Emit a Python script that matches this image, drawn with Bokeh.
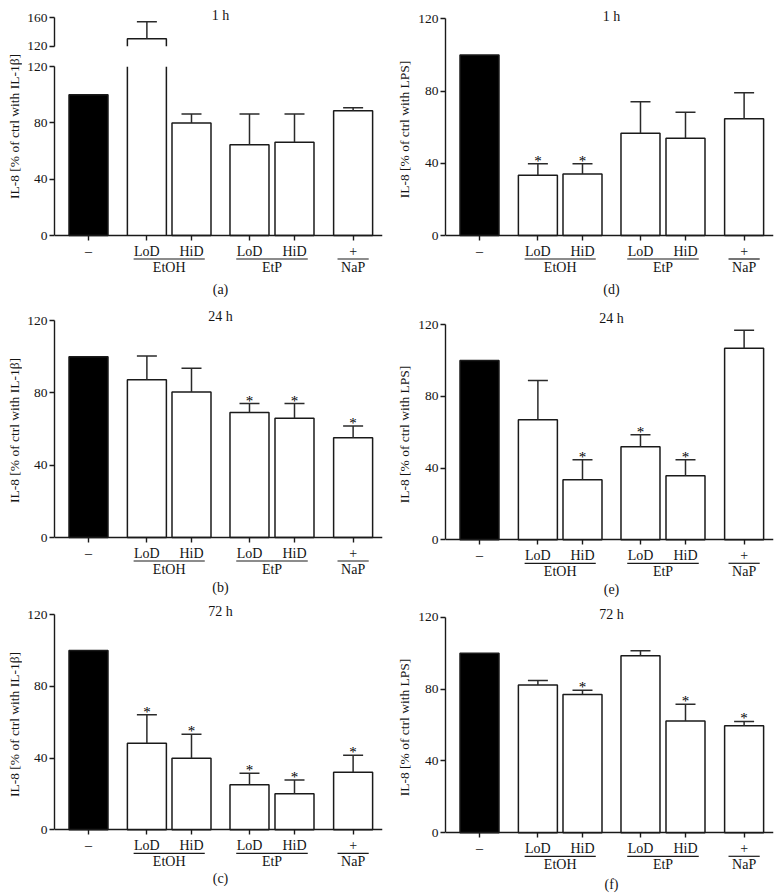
import math
from bokeh.plotting import figure
from bokeh.models import (ColumnDataSource, Whisker, TeeHead, FixedTicker,
                          LinearAxis, Range1d)
from bokeh.layouts import row, column
from bokeh.embed import file_html
from bokeh.resources import INLINE
from bokeh.core.properties import value

# ---------------- data ----------------
bar_labels = ["–", "LoD", "HiD", "LoD", "HiD", "+"]
group_labels = ["EtOH", "EtP", "NaP"]
group_members = [[1, 2], [3, 4], [5]]
ylabel_il1b = "IL-8 [% of ctrl with IL-1β]"
ylabel_lps = "IL-8 [% of ctrl with LPS]"
y_ticks = [0, 40, 80, 120]
break_ticks = [120, 160]
time_labels = ["1 h", "24 h", "72 h"]
letters = ["(a)", "(b)", "(c)", "(d)", "(e)", "(f)"]

# (a) IL-1beta, 1 h
a_mean = [100, 130.7, 79.8, 64.4, 66.3, 88.5]
a_err = [0, 23.7, 6.4, 21.8, 19.9, 2.2]
a_star = [0, 0, 0, 0, 0, 0]
# (b) IL-1beta, 24 h
b_mean = [100, 87.2, 80.4, 69.1, 66.0, 55.1]
b_err = [0, 13.1, 13.2, 5.0, 8.1, 6.5]
b_star = [0, 0, 0, 1, 1, 1]
# (c) IL-1beta, 72 h
c_mean = [100, 48.3, 39.9, 25.1, 20.1, 32.1]
c_err = [0, 15.8, 13.4, 6.4, 7.6, 9.5]
c_star = [0, 1, 1, 1, 1, 1]
# (d) LPS, 1 h
d_mean = [100, 33.4, 34.0, 56.6, 53.9, 64.6]
d_err = [0, 6.3, 5.7, 17.4, 14.4, 14.4]
d_star = [0, 1, 1, 0, 0, 0]
# (e) LPS, 24 h
e_mean = [100, 66.9, 33.4, 51.8, 35.7, 106.8]
e_err = [0, 21.9, 11.2, 6.7, 8.9, 10.0]
e_star = [0, 0, 1, 1, 1, 0]
# (f) LPS, 72 h
f_mean = [100, 82.2, 77.0, 98.5, 62.2, 59.6]
f_err = [0, 2.6, 2.4, 2.8, 9.3, 2.4]
f_star = [0, 0, 1, 0, 1, 1]

# ---------------- layout / style ----------------
FONT = "Liberation Serif"
TXT = "#141414"
LINE = "#1a1a1a"
ERR = "#2a2a2a"
LW_BAR = 1.5
XPOS = [0.0, 1.497, 2.641, 4.128, 5.282, 6.785]
BAR_W = 1.0
PX = 39.0                      # px per x unit
X0, X1 = -34 / PX, 294 / PX    # frame 328 px wide
TITLE_X = 132 / PX
PAGE_H = 894
BREAK = 120


def base_fig(width, height, mbl, mbr, mbt, mbb, yr):
    p = figure(width=width, height=height, x_range=Range1d(X0, X1), y_range=yr,
               output_backend="svg", toolbar_location=None, title=None,
               x_axis_location=None, y_axis_location="left",
               min_border_left=mbl, min_border_right=mbr,
               min_border_top=mbt, min_border_bottom=mbb)
    p.outline_line_color = None
    p.grid.visible = False
    p.background_fill_color = "white"
    p.border_fill_color = "white"
    return p


def style_axis(ax, size):
    ax.major_tick_out = 5
    ax.major_tick_in = 0
    ax.minor_tick_out = 0
    ax.minor_tick_in = 0
    ax.axis_line_color = LINE
    ax.axis_line_width = 1.4
    ax.major_tick_line_color = LINE
    ax.major_tick_line_width = 1.4
    ax.major_label_text_font = FONT
    ax.major_label_text_font_size = size
    ax.major_label_text_color = TXT


def style_yaxis(p, ticks, bounds):
    ax = p.yaxis[0]
    ax.ticker = FixedTicker(ticks=ticks)
    ax.bounds = bounds
    style_axis(ax, "13.5px")
    ax.major_label_standoff = 2


def add_xaxis(p):
    xa = LinearAxis(fixed_location=0, ticker=FixedTicker(ticks=XPOS), bounds=(X0, X1),
                    major_label_overrides={x: l for x, l in zip(XPOS, bar_labels)})
    style_axis(xa, "14px")
    xa.major_label_standoff = 3
    p.add_layout(xa, "below")


def draw_data(p, mean, err, star, mode="full"):
    n = len(mean)
    if mode == "full":
        normal = list(range(n))
        broken = []
    elif mode == "lower":
        normal = [i for i in range(n) if mean[i] <= BREAK]
        broken = [i for i in range(n) if mean[i] > BREAK]
    else:  # upper
        normal = []
        broken = [i for i in range(n) if mean[i] > BREAK]

    if normal:
        p.vbar(x=[XPOS[i] for i in normal], top=[mean[i] for i in normal], bottom=0,
               width=BAR_W, fill_color=["black" if i == 0 else "white" for i in normal],
               line_color=LINE, line_width=LW_BAR)
    if broken:
        if mode == "lower":
            # open-topped bar up to the axis break
            p.vbar(x=[XPOS[i] for i in broken], top=BREAK, bottom=0, width=BAR_W,
                   fill_color="white", line_color=None)
            p.multi_line(xs=[[XPOS[i] - BAR_W / 2, XPOS[i] - BAR_W / 2] for i in broken]
                         + [[XPOS[i] + BAR_W / 2, XPOS[i] + BAR_W / 2] for i in broken],
                         ys=[[0, BREAK]] * (2 * len(broken)),
                         line_color=LINE, line_width=LW_BAR)
        else:
            # open-bottomed bar continuing above the break
            p.vbar(x=[XPOS[i] for i in broken], top=[mean[i] for i in broken],
                   bottom=BREAK, width=BAR_W, fill_color="white", line_color=None)
            p.multi_line(xs=[[XPOS[i] - BAR_W / 2, XPOS[i] - BAR_W / 2,
                              XPOS[i] + BAR_W / 2, XPOS[i] + BAR_W / 2] for i in broken],
                         ys=[[BREAK, mean[i], mean[i], BREAK] for i in broken],
                         line_color=LINE, line_width=LW_BAR)

    shown = normal if mode == "lower" else (normal + broken)
    widx = [i for i in shown if err[i] > 0]
    if widx:
        src = ColumnDataSource(dict(x=[XPOS[i] for i in widx],
                                    lo=[mean[i] for i in widx],
                                    hi=[mean[i] + err[i] for i in widx]))
        w = Whisker(source=src, base="x", lower="lo", upper="hi", dimension="height",
                    line_color=ERR, line_width=LW_BAR, lower_head=None,
                    upper_head=TeeHead(size=20, line_color=ERR, line_width=LW_BAR),
                    level="glyph")
        p.add_layout(w)
    sidx = [i for i in shown if star[i]]
    if sidx:
        p.text(x=[XPOS[i] for i in sidx], y=[mean[i] + err[i] for i in sidx],
               text=["*"] * len(sidx), text_font=value(FONT), text_font_size="15px",
               text_align="center", text_baseline="alphabetic", y_offset=-3,
               text_color="black")


def text1(p, x, y, t, size="14px"):
    p.text(x=[x], y=[y], text=[t], text_font=value(FONT), text_font_size=size,
           text_align="center", text_baseline="middle", text_color=TXT)


def add_group_labels(p, s, y0_py, letter, letter_py):
    x0s, x1s, cx = [], [], []
    for m in group_members:
        pad = 0.34 if len(m) > 1 else 0.40
        x0s.append(XPOS[m[0]] - pad)
        x1s.append(XPOS[m[-1]] + pad)
        cx.append(sum(XPOS[i] for i in m) / len(m))
    yl = -23.5 / s
    p.segment(x0=x0s, y0=[yl] * 3, x1=x1s, y1=[yl] * 3, line_color=LINE, line_width=1.2)
    p.text(x=cx, y=[-31.5 / s] * 3, text=group_labels, text_font=value(FONT),
           text_font_size="14px", text_align="center", text_baseline="middle",
           text_color=TXT)
    text1(p, TITLE_X, (y0_py - letter_py) / s, letter)


def y_range_for(fr_top, fr_bot, y0_py, y120_py):
    s = (y0_py - y120_py) / 120.0
    return Range1d(-(fr_bot - y0_py) / s, (y0_py - fr_top) / s), s


def panel(width, mbl, mbr, top, bottom, y0_py, y120_py, mean, err, star,
          title, title_py, letter, letter_py):
    yr, s = y_range_for(top, bottom, y0_py, y120_py)
    p = base_fig(width, bottom - top, mbl, mbr, 0, 0, yr)
    style_yaxis(p, y_ticks, (0, 120))
    add_xaxis(p)
    draw_data(p, mean, err, star, "full")
    text1(p, TITLE_X, (y0_py - title_py) / s, title)
    add_group_labels(p, s, y0_py, letter, letter_py)
    return p


LW, LMBL, LMBR = 369, 32, 9     # page x 22..391, frame 54..382
RW, RMBL, RMBR = 368, 31, 9     # page x 414..782, frame 445..773

# ----- panel (a): broken axis -----
up_s = (46 - 17.3) / 40.0
a_up = base_fig(LW, 56, LMBL, LMBR, 0, 10, Range1d(BREAK - 1e-4, BREAK + 46 / up_s))
style_yaxis(a_up, break_ticks, (120, 160))
draw_data(a_up, a_mean, a_err, a_star, "upper")
text1(a_up, TITLE_X, BREAK + (46 - 15.5) / up_s, time_labels[0])

yr_al, s_al = y_range_for(66, 300, 235, 66)
yr_al.end = BREAK + 1e-4
a_low = base_fig(LW, 244, LMBL, LMBR, 10, 0, yr_al)
style_yaxis(a_low, y_ticks, (0, 120))
add_xaxis(a_low)
draw_data(a_low, a_mean, a_err, a_star, "lower")
add_group_labels(a_low, s_al, 235, letters[0], 289)

# ----- other panels -----
p_b = panel(LW, LMBL, LMBR, 300, 600, 537, 320, b_mean, b_err, b_star,
            time_labels[1], 315.8, letters[1], 587)
p_c = panel(LW, LMBL, LMBR, 600, PAGE_H, 829.3, 614, c_mean, c_err, c_star,
            time_labels[2], 611, letters[2], 878)
p_d = panel(RW, RMBL, RMBR, 0, 300, 235, 18.3, d_mean, d_err, d_star,
            time_labels[0], 16, letters[3], 289)
p_e = panel(RW, RMBL, RMBR, 300, 600, 539.3, 324, e_mean, e_err, e_star,
            time_labels[1], 317.5, letters[4], 589)
p_f = panel(RW, RMBL, RMBR, 600, PAGE_H, 832.3, 616.7, f_mean, f_err, f_star,
            time_labels[2], 614, letters[5], 884)


# ----- y-axis titles (narrow label columns) -----
def label_fig(width, x_px, items):
    p = figure(width=width, height=PAGE_H, x_range=Range1d(0, width),
               y_range=Range1d(0, PAGE_H), output_backend="svg",
               toolbar_location=None, title=None, x_axis_location=None,
               y_axis_location=None, min_border=0)
    p.outline_line_color = None
    p.grid.visible = False
    p.text(x=[x_px] * len(items), y=[PAGE_H - py for py, _ in items],
           text=[t for _, t in items], angle=math.pi / 2, text_font=value(FONT),
           text_font_size="13.5px", text_align="center", text_baseline="middle",
           text_color=TXT)
    return p


lab_left = label_fig(22, 14, [(126, ylabel_il1b), (430, ylabel_il1b), (724, ylabel_il1b)])
lab_right = label_fig(23, 13, [(129, ylabel_lps), (434, ylabel_lps), (727, ylabel_lps)])

layout = row(lab_left,
             column(column(a_up, a_low), p_b, p_c),
             lab_right,
             column(p_d, p_e, p_f))

open("out.html", "w").write(file_html(layout, INLINE))
